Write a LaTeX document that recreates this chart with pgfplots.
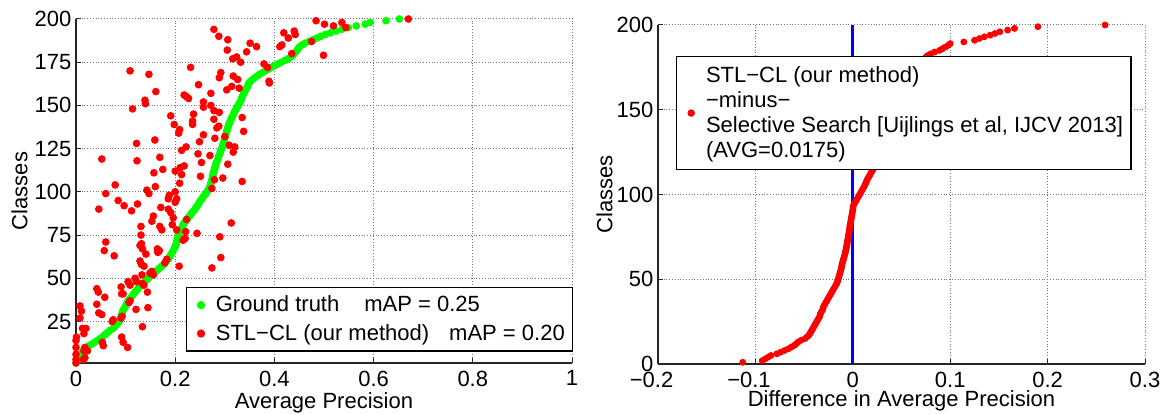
\documentclass[border=0pt]{standalone}
\usepackage{fontspec}
\setmainfont{Liberation Sans}
\usepackage{pgfplots}
\pgfplotsset{compat=1.18}
\definecolor{mred}{rgb}{1,0,0}
\definecolor{mgreen}{rgb}{0,1,0}
\definecolor{mblue}{rgb}{0,0,1}
\pgfplotsset{
  mstyle/.style={
    scale only axis,
    axis x line*=bottom, axis y line*=left,
    axis line style={black!85, line width=0.6pt},
    tick align=inside,
    major tick length=2.5pt,
    tick style={black!85, line width=0.5pt},
    grid=major,
    major grid style={densely dotted, black!55, line width=0.5pt},
    clip=false,
    yticklabel style={xshift=1.5pt},
    legend cell align=left,
  },
  dotleg/.style={legend image code/.code={\path[draw=none,fill=none] (0cm,0cm) -- (0.38cm,0cm);\draw[##1, only marks] plot coordinates {(0.19cm,0cm)};}},
  dotlegshift/.style={legend image code/.code={\path[draw=none,fill=none] (0cm,0cm) -- (0.38cm,0cm);\draw[##1, only marks, overlay] plot coordinates {(0.19cm,-6.25pt)};}},
}
\begin{document}
\fontsize{11}{13.2}\selectfont
\begin{tikzpicture}
\path[use as bounding box] (0,0) rectangle (584pt,207.5pt);
%%%%%%%%%%%%%%%% LEFT
\begin{axis}[mstyle, at={(38pt,26pt)}, anchor=south west, width=248pt, height=172pt,
  xmin=0, xmax=1, ymin=1, ymax=200,
  xtick={0,0.2,0.4,0.6,0.8,1}, xticklabels={0,0.2,0.4,0.6,0.8,1},
  ytick={25,50,75,100,125,150,175,200}, yticklabels={25,50,75,100,125,150,175,200},
  xlabel={Average Precision}, ylabel={Classes},
  xlabel style={at={(axis description cs:0.5,-0.1317)}, anchor=base},
  ylabel style={at={(axis description cs:-0.114,0.5)}, anchor=center},
  legend style={at={(axis description cs:1.003,0.033)}, anchor=south east, draw=black, line width=0.7pt, fill=white,
    row sep=0pt, column sep=0pt, inner xsep=2pt, inner ysep=1.6pt,
    nodes={inner xsep=2pt, inner ysep=1.35pt, text height=9pt, text depth=2.5pt}},
]
\addplot[only marks, mark=*, mark size=1.7pt, color=mgreen, dotleg] coordinates {
(0.000,1)(0.002,2)(0.004,3)(0.006,4)(0.008,5)(0.010,6)(0.012,7)(0.014,8)(0.016,9)(0.020,10)
(0.026,11)(0.032,12)(0.038,13)(0.043,14)(0.048,15)(0.053,16)(0.057,17)(0.061,18)(0.065,19)(0.069,20)
(0.075,21)(0.078,22)(0.081,23)(0.084,24)(0.087,25)(0.089,26)(0.090,27)(0.091,28)(0.092,29)(0.093,30)
(0.094,31)(0.096,32)(0.098,33)(0.100,34)(0.102,35)(0.103,36)(0.105,37)(0.108,38)(0.111,39)(0.114,40)
(0.116,41)(0.119,42)(0.122,43)(0.125,44)(0.128,45)(0.131,46)(0.135,47)(0.139,48)(0.142,49)(0.146,50)
(0.149,51)(0.153,52)(0.157,53)(0.161,54)(0.165,55)(0.169,56)(0.173,57)(0.177,58)(0.180,59)(0.183,60)
(0.186,61)(0.188,62)(0.190,63)(0.192,64)(0.194,65)(0.196,66)(0.198,67)(0.200,68)(0.201,69)(0.202,70)
(0.203,71)(0.204,72)(0.205,73)(0.206,74)(0.206,75)(0.207,76)(0.209,77)(0.211,78)(0.213,79)(0.215,80)
(0.216,81)(0.218,82)(0.221,83)(0.223,84)(0.226,85)(0.229,86)(0.231,87)(0.234,88)(0.237,89)(0.240,90)
(0.242,91)(0.245,92)(0.247,93)(0.249,94)(0.251,95)(0.254,96)(0.256,97)(0.259,98)(0.262,99)(0.264,100)
(0.266,101)(0.268,102)(0.270,103)(0.271,104)(0.272,105)(0.273,106)(0.274,107)(0.275,108)(0.276,109)(0.276,110)
(0.277,111)(0.278,112)(0.279,113)(0.280,114)(0.281,115)(0.282,116)(0.283,117)(0.285,118)(0.286,119)(0.287,120)
(0.288,121)(0.290,122)(0.291,123)(0.292,124)(0.294,125)(0.295,126)(0.296,127)(0.297,128)(0.298,129)(0.299,130)
(0.300,131)(0.301,132)(0.302,133)(0.303,134)(0.304,135)(0.305,136)(0.306,137)(0.307,138)(0.308,139)(0.310,140)
(0.311,141)(0.313,142)(0.314,143)(0.316,144)(0.318,145)(0.319,146)(0.321,147)(0.323,148)(0.325,149)(0.327,150)
(0.329,151)(0.331,152)(0.333,153)(0.334,154)(0.335,155)(0.337,156)(0.338,157)(0.340,158)(0.342,159)(0.344,160)
(0.346,161)(0.347,162)(0.349,163)(0.352,164)(0.356,165)(0.360,166)(0.365,167)(0.370,168)(0.376,169)(0.382,170)
(0.388,171)(0.394,172)(0.400,173)(0.407,174)(0.414,175)(0.421,176)(0.428,177)(0.433,178)(0.437,179)(0.440,180)
(0.443,181)(0.446,182)(0.448,183)(0.451,184)(0.456,185)(0.462,186)(0.470,187)(0.478,188)(0.486,189)(0.494,190)
(0.503,191)(0.513,192)(0.524,193)(0.536,194)(0.549,195)(0.565,196)(0.583,197)(0.593,198)(0.625,199)(0.652,200)
};
\addlegendentry{Ground truth\hspace{12.5pt}mAP = 0.25}
\addplot[only marks, mark=*, mark size=1.7pt, color=mred, dotleg] coordinates {
(0.278,194)(0.288,190)(0.306,188)(0.351,186)(0.305,182)(0.344,181)(0.316,177)(0.324,178)(0.332,175)
(0.109,170)(0.147,168)(0.231,172)(0.292,169)(0.289,166)(0.317,167)(0.326,165)(0.247,162)(0.314,161)(0.304,159)(0.329,160)
(0.161,158)(0.272,157)(0.218,156)(0.223,155)(0.227,154)(0.139,153)(0.140,151)(0.114,148)(0.257,152)(0.257,149)
(0.272,150)(0.278,147)(0.289,146)(0.191,144)(0.237,145)(0.198,139)(0.235,141)(0.235,139)(0.278,142)(0.284,137)
(0.288,138)(0.335,143)(0.209,136)(0.207,134)(0.257,133)(0.300,132)(0.338,135)(0.280,131)(0.159,130)(0.122,128)
(0.249,129)(0.222,126)(0.213,124)(0.309,127)(0.320,126)(0.317,123)(0.052,119)(0.123,118)(0.169,120)(0.246,122)
(0.270,121)(0.253,117)(0.306,116)(0.157,111)(0.175,113)(0.200,112)(0.210,114)(0.218,115)(0.213,110)(0.251,109)
(0.279,107)(0.296,108)(0.335,106)(0.079,104)(0.160,103)(0.143,101)(0.209,105)(0.200,100)(0.274,102)(0.060,99)
(0.188,98)(0.147,99)(0.186,96)(0.085,95)(0.097,92)(0.124,93)(0.046,90)(0.112,89)(0.171,91)(0.186,90)
(0.191,88)(0.196,85)(0.200,94)(0.203,96)(0.223,84)(0.131,80)(0.153,83)(0.156,86)(0.169,80)(0.173,78)
(0.194,81)(0.203,78)(0.221,77)(0.220,73)(0.216,72)(0.244,76)(0.313,82)(0.290,74)(0.292,62)(0.274,56)
(0.131,75)(0.129,69)(0.132,70)(0.134,67)(0.060,71)(0.057,66)(0.077,63)(0.141,64)(0.164,67)(0.168,66)
(0.165,65)(0.129,60)(0.132,58)(0.137,57)(0.179,59)(0.183,61)(0.208,57)(0.149,53)(0.153,54)(0.156,52)
(0.133,52)(0.119,50)(0.122,48)(0.105,48)(0.109,46)(0.091,45)(0.134,47)(0.137,46)(0.144,42)(0.042,44)
(0.045,42)(0.058,39)(0.092,41)(0.095,41)(0.109,37)(0.107,36)(0.042,35)(0.121,32)(0.145,33)(0.008,34)
(0.011,31)(0.008,27)(0.046,30)(0.052,29)(0.073,25)(0.075,26)(0.091,27)(0.093,28)(0.134,22)(0.013,21)
(0.020,21)(0.016,18)(0.001,16)(0.000,14)(0.092,16)(0.095,13)(0.104,10)(0.053,13)(0.055,11)(0.018,10)
(0.016,8)(0.000,10)(0.000,6)(0.000,3)(0.000,1)(0.018,4)(0.015,3)(0.023,8)
(0.484,199)(0.501,197)(0.519,196)(0.536,198)(0.544,195)(0.670,200)(0.419,192)(0.440,193)(0.442,191)(0.428,189)
(0.411,184)(0.415,185)(0.364,184)(0.475,187)(0.435,180)(0.499,179)(0.379,174)(0.386,172)(0.389,164)(0.390,163)
};
\addlegendentry{STL−CL (our method)\hspace{10pt}mAP = 0.20}
\end{axis}
%%%%%%%%%%%%%%%% RIGHT
\begin{axis}[mstyle, at={(329pt,25.5pt)}, anchor=south west, width=243.5pt, height=169.5pt,
  xmin=-0.2, xmax=0.3, ymin=0, ymax=200,
  xtick={-0.2,-0.1,0,0.1,0.2,0.3}, xticklabels={\llap{−}0.2,\llap{−}0.1,0,0.1,0.2,0.3},
  ytick={0,50,100,150,200}, yticklabels={0,50,100,150,200},
  xlabel={Difference in Average Precision}, ylabel={Classes},
  xlabel style={at={(axis description cs:0.5,-0.126)}, anchor=base},
  ylabel style={at={(axis description cs:-0.11,0.5)}, anchor=center},
  legend style={at={(axis description cs:0.0363,0.9086)}, anchor=north west, draw=black, line width=0.7pt, fill=white,
    row sep=0pt, column sep=0pt, inner xsep=2pt, inner ysep=3.2pt,
    nodes={inner xsep=2pt, inner ysep=0.5pt, text height=9pt, text depth=2.5pt}},
]
\addplot[mblue, line width=1.5pt, forget plot] coordinates {(0,0) (0,200)};
\addlegendimage{empty legend}
\addlegendentry{STL−CL (our method)}
\addplot[only marks, mark=*, mark size=1.5pt, color=mred, dotlegshift] coordinates {
(-0.113,1)(-0.093,2)(-0.090,3)(-0.087,4)(-0.084,5)(-0.078,6)(-0.074,7)(-0.070,8)(-0.066,9)(-0.063,10)
(-0.060,11)(-0.058,12)(-0.056,13)(-0.053,14)(-0.049,15)(-0.047,16)(-0.045,17)(-0.044,18)(-0.043,19)(-0.042,20)
(-0.041,21)(-0.040,22)(-0.039,23)(-0.038,24)(-0.037,25)(-0.036,26)(-0.035,27)(-0.034,28)(-0.0335,29)(-0.033,30)
(-0.032,31)(-0.031,32)(-0.0305,33)(-0.030,34)(-0.029,35)(-0.028,36)(-0.027,37)(-0.026,38)(-0.025,39)(-0.024,40)
(-0.023,41)(-0.022,42)(-0.021,43)(-0.020,44)(-0.019,45)(-0.018,46)(-0.017,47)(-0.016,48)(-0.0155,49)(-0.015,50)
(-0.0145,51)(-0.014,52)(-0.0135,53)(-0.013,54)(-0.0125,55)(-0.012,56)(-0.0117,57)(-0.0113,58)(-0.011,59)(-0.0105,60)
(-0.010,61)(-0.0095,62)(-0.009,63)(-0.0085,64)(-0.008,65)(-0.0076,66)(-0.0072,67)(-0.0068,68)(-0.0065,69)(-0.0062,70)
(-0.0059,71)(-0.0056,72)(-0.0053,73)(-0.0050,74)(-0.0047,75)(-0.0044,76)(-0.0041,77)(-0.0038,78)(-0.0035,79)(-0.0032,80)
(-0.0030,81)(-0.0027,82)(-0.0024,83)(-0.0021,84)(-0.0018,85)(-0.0015,86)(-0.0012,87)(-0.0009,88)(-0.0006,89)(-0.0003,90)
(0.0000,91)(0.0002,92)(0.0004,93)(0.0010,94)(0.0020,95)(0.0030,96)(0.0040,97)(0.0050,98)(0.0060,99)(0.0070,100)
(0.0080,101)(0.0090,102)(0.0100,103)(0.0110,104)(0.0120,105)(0.0128,106)(0.0135,107)(0.0142,108)(0.0150,109)(0.0160,110)
(0.0170,111)(0.0180,112)(0.0190,113)(0.0200,114)(0.0210,115)(0.0220,116)(0.0230,117)(0.0240,118)(0.0245,119)(0.0250,120)
(0.0255,121)(0.0260,122)(0.0265,123)(0.0270,124)(0.0275,125)(0.0280,126)(0.0285,127)(0.0290,128)(0.0295,129)(0.0300,130)
(0.0305,131)(0.0310,132)(0.0320,133)(0.0325,134)(0.0330,135)(0.0340,136)(0.0345,137)(0.0350,138)(0.0360,139)(0.0365,140)
(0.0370,141)(0.0380,142)(0.0385,143)(0.0390,144)(0.0400,145)(0.0405,146)(0.0410,147)(0.0415,148)(0.0420,149)(0.0425,150)
(0.0430,151)(0.0435,152)(0.0440,153)(0.0450,154)(0.0455,155)(0.0460,156)(0.0470,157)(0.0475,158)(0.0480,159)(0.0490,160)
(0.0495,161)(0.0500,162)(0.0510,163)(0.0515,164)(0.0520,165)(0.0530,166)(0.0540,167)(0.0550,168)(0.0560,169)(0.0570,170)
(0.0580,171)(0.0590,172)(0.0600,173)(0.0615,174)(0.0630,175)(0.0650,176)(0.0670,177)(0.0690,178)(0.0710,179)(0.0730,180)
(0.0750,181)(0.0770,182)(0.0800,183)(0.0840,184)(0.0890,185)(0.0920,186)(0.0950,187)(0.0980,188)(0.1000,189)(0.1140,190)
(0.1250,191)(0.1300,192)(0.1350,193)(0.1410,194)(0.1460,195)(0.1510,196)(0.1590,197)(0.1660,198)(0.1900,199)(0.2590,200)
};
\addlegendentry{−minus−}
\addlegendimage{empty legend}
\addlegendentry{Selective Search [Uijlings et al, IJCV 2013]}
\addlegendimage{empty legend}
\addlegendentry{(AVG=0.0175)}
\end{axis}
\end{tikzpicture}
\end{document}
